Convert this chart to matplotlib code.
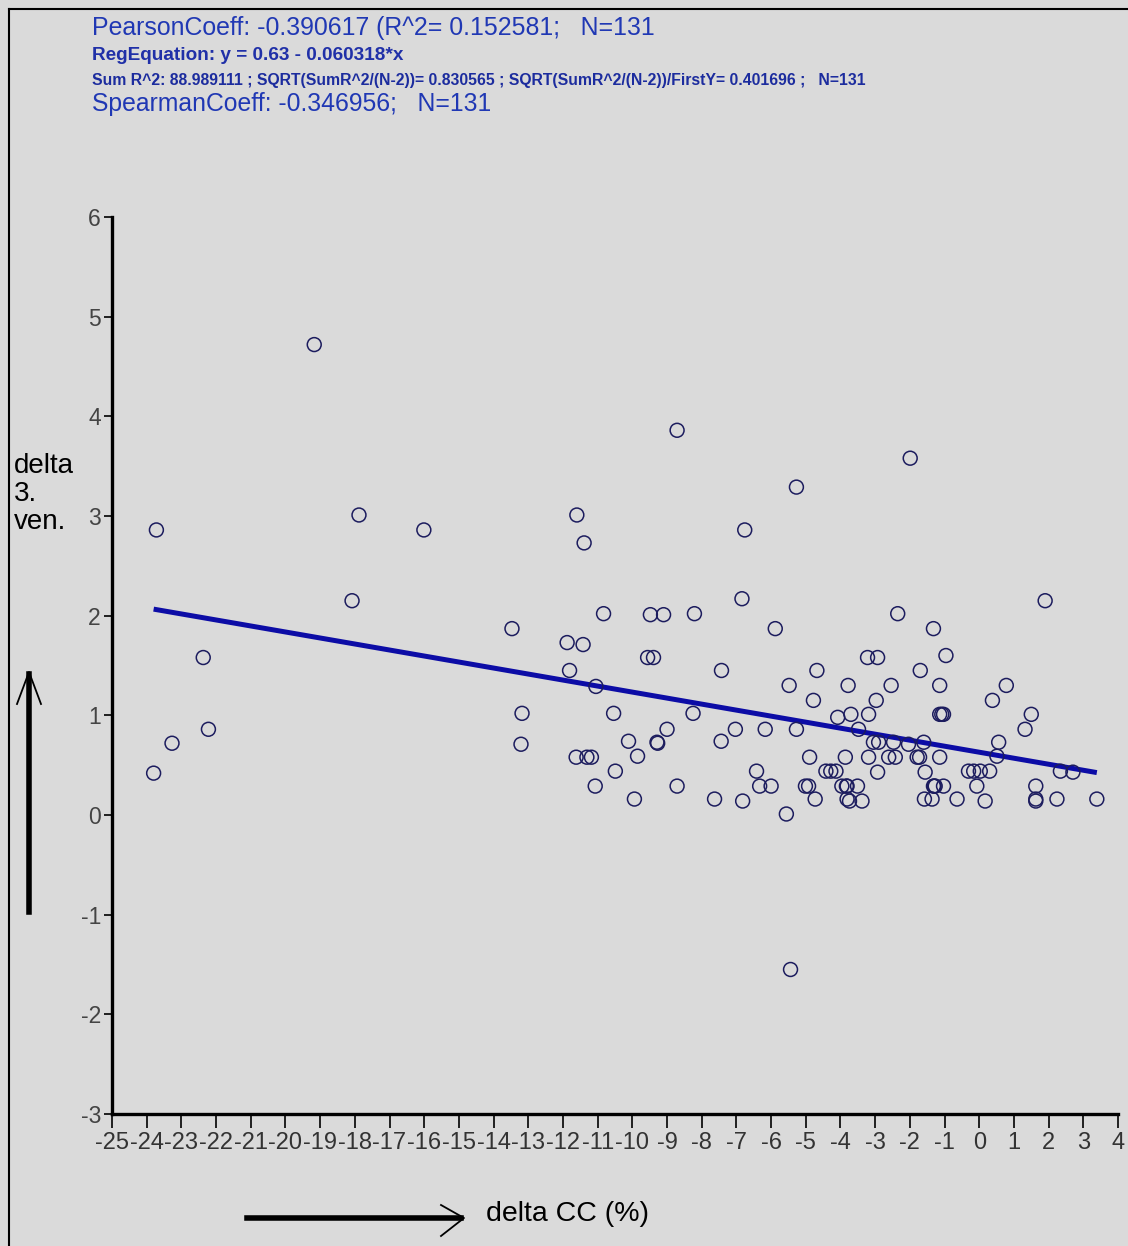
import numpy as np
import matplotlib.pyplot as plt
from matplotlib.lines import Line2D

plt.rcParams['axes.unicode_minus'] = False

# delta CC (%) vs delta 3. ven.
delta_cc = [-19.17, -23.72, -17.88, -16.01, -18.08, -22.37, -22.22, -23.27, -23.80,
            -8.71, -5.27, -11.60, -11.39, -6.76, -6.84, -10.83, -9.48, -9.10, -8.21,
            -13.47, -5.88, -11.88, -11.42, -9.56, -9.39, -7.43, -11.81, -11.05, -5.48,
            -13.18, -10.54, -8.25, -13.21, -9.00, -7.03, -6.17, -5.27, -10.11, -9.29,
            -9.27, -7.44, -11.62, -11.31, -11.18, -9.85, -10.49, -6.42, -11.07, -8.71,
            -6.33, -6.00, -9.94, -7.63, -6.82, -5.56,
            -1.99, 1.90, -2.35, -1.32, -0.96, -3.22, -2.93, -4.68, -1.70, -3.78,
            -2.54, -1.14, 0.78, -4.78, -2.97, 0.38, -3.70, -3.19, -1.14, -1.03,
            1.50, -4.08, -3.48, 1.32, 0.56, -3.05, -2.90, -2.47, -2.04, -1.60,
            0.51, -4.89, -3.86, -3.19, -2.61, -2.42, -1.79, -1.72, -1.14, -4.42,
            -4.28, -4.13, -2.93, -1.56, -0.31, -0.16, 0.03, 0.30, 2.34, 2.70,
            -5.01, -4.92, -3.96, -3.81, -3.51, -1.32, -1.27, -1.03, -0.07, 1.63,
            -4.73, -3.81, -3.74, -3.38, -1.58, -1.36, -0.64, 0.17, 1.63, 1.63,
            2.24, 3.39, -5.44, -1.30, -3.83, -1.08]
delta_ven = [4.72, 2.86, 3.01, 2.86, 2.15, 1.58, 0.86, 0.72, 0.42,
             3.86, 3.29, 3.01, 2.73, 2.86, 2.17, 2.02, 2.01, 2.01, 2.02,
             1.87, 1.87, 1.73, 1.71, 1.58, 1.58, 1.45, 1.45, 1.29, 1.30,
             1.02, 1.02, 1.02, 0.71, 0.86, 0.86, 0.86, 0.86, 0.74, 0.73,
             0.72, 0.74, 0.58, 0.58, 0.58, 0.59, 0.44, 0.44, 0.29, 0.29,
             0.29, 0.29, 0.16, 0.16, 0.14, 0.01,
             3.58, 2.15, 2.02, 1.87, 1.60, 1.58, 1.58, 1.45, 1.45, 1.30,
             1.30, 1.30, 1.30, 1.15, 1.15, 1.15, 1.01, 1.01, 1.01, 1.01,
             1.01, 0.98, 0.86, 0.86, 0.73, 0.73, 0.73, 0.73, 0.71, 0.73,
             0.59, 0.58, 0.58, 0.58, 0.58, 0.58, 0.58, 0.58, 0.58, 0.44,
             0.44, 0.44, 0.43, 0.43, 0.44, 0.44, 0.44, 0.44, 0.44, 0.43,
             0.29, 0.29, 0.29, 0.29, 0.29, 0.29, 0.29, 0.29, 0.29, 0.29,
             0.16, 0.16, 0.14, 0.14, 0.16, 0.16, 0.16, 0.14, 0.16, 0.14,
             0.16, 0.16, -1.55, 0.29, 0.29, 1.01]

intercept = 0.63
slope = -0.060318

x_ticks = list(range(-25, 5))
y_ticks = list(range(-3, 7))

header = ['PearsonCoeff: -0.390617 (R^2= 0.152581;   N=131',
          'RegEquation: y = 0.63 - 0.060318*x',
          'Sum R^2: 88.989111 ; SQRT(SumR^2/(N-2))= 0.830565 ; SQRT(SumR^2/(N-2))/FirstY= 0.401696 ;   N=131',
          'SpearmanCoeff: -0.346956;   N=131']

W, H = 1128, 1246
bg = '#dadada'
fx = lambda px: px / W
fy = lambda py: 1 - py / H

fig = plt.figure(figsize=(W / 100, H / 100), dpi=100, facecolor=bg)
ax = fig.add_axes([fx(112), fy(1114), (1118 - 112) / W, (1114 - 217) / H])
ax.set_facecolor(bg)
ax.set_xlim(-25, 4)
ax.set_ylim(-3, 6)
for s in ['top', 'right']:
    ax.spines[s].set_visible(False)
for s in ['left', 'bottom']:
    ax.spines[s].set_linewidth(2.4)
    ax.spines[s].set_color('black')

ax.set_xticks(x_ticks)
ax.set_yticks(y_ticks)
ax.tick_params(axis='x', length=10, width=1.2, pad=3, labelsize=17, labelcolor='#333333')
ax.tick_params(axis='y', length=6, width=1.2, pad=2, labelsize=16.5, labelcolor='#444444')
for lab in ax.get_xticklabels():
    lab.set_family(['Liberation Sans Narrow', 'Liberation Sans'])
for lab in ax.get_yticklabels():
    lab.set_family('Liberation Sans')

ax.scatter(delta_cc, delta_ven, s=100, facecolors='none', edgecolors='#1c1c5e', linewidths=1.1, zorder=3)
xl = np.array([min(delta_cc), max(delta_cc)])
ax.plot(xl, intercept + slope * xl, color='#0c0ca6', lw=3.6, solid_capstyle='butt', zorder=2)

# header texts, each fitted to its width in the picture
r = fig.canvas.get_renderer()
specs = [(header[0], 28, 657, 'normal', ['Liberation Sans'], '#2038b4'),
         (header[1], 55, 405, 'bold', ['Liberation Sans Narrow', 'Liberation Sans'], '#2030a8'),
         (header[2], 80, 868, 'bold', ['Liberation Sans Narrow', 'Liberation Sans'], '#1c2c9e'),
         (header[3], 104, 493, 'normal', ['Liberation Sans'], '#2038b4')]
for txt, ypx, xend, wt, fam, col in specs:
    t = fig.text(fx(92), fy(ypx), txt, fontsize=14, fontweight=wt, family=fam,
                 color=col, va='center', ha='left')
    w = t.get_window_extent(renderer=r).width
    t.set_fontsize(14 * (xend - 92) / w)

# axis labels with hand-drawn style arrows
fig.text(fx(14), fy(494), 'delta\n3.\nven.', fontsize=20, family='Liberation Sans',
         va='center', ha='left', linespacing=1.1)
fig.text(fx(486), fy(1214), 'delta CC (%)', fontsize=20.5, family='Liberation Sans',
         va='center', ha='left')

arrows = [([fx(29), fx(29)], [fy(912), fy(674)], 4.0),
          ([fx(17), fx(29), fx(41)], [fy(704), fy(672), fy(704)], 1.3),
          ([fx(247), fx(461)], [fy(1218), fy(1218)], 4.0),
          ([fx(441), fx(464), fx(441)], [fy(1205), fy(1218), fy(1236)], 1.3)]
for xs, ys, lw in arrows:
    fig.add_artist(Line2D(xs, ys, color='black', lw=lw, transform=fig.transFigure))

# picture frame
fig.add_artist(Line2D([fx(9), fx(9)], [fy(9), fy(1246)], color='black', lw=1.5, transform=fig.transFigure))
fig.add_artist(Line2D([fx(9), fx(1128)], [fy(9), fy(9)], color='black', lw=1.5, transform=fig.transFigure))

fig.savefig('out.png', dpi=100, facecolor=bg)
